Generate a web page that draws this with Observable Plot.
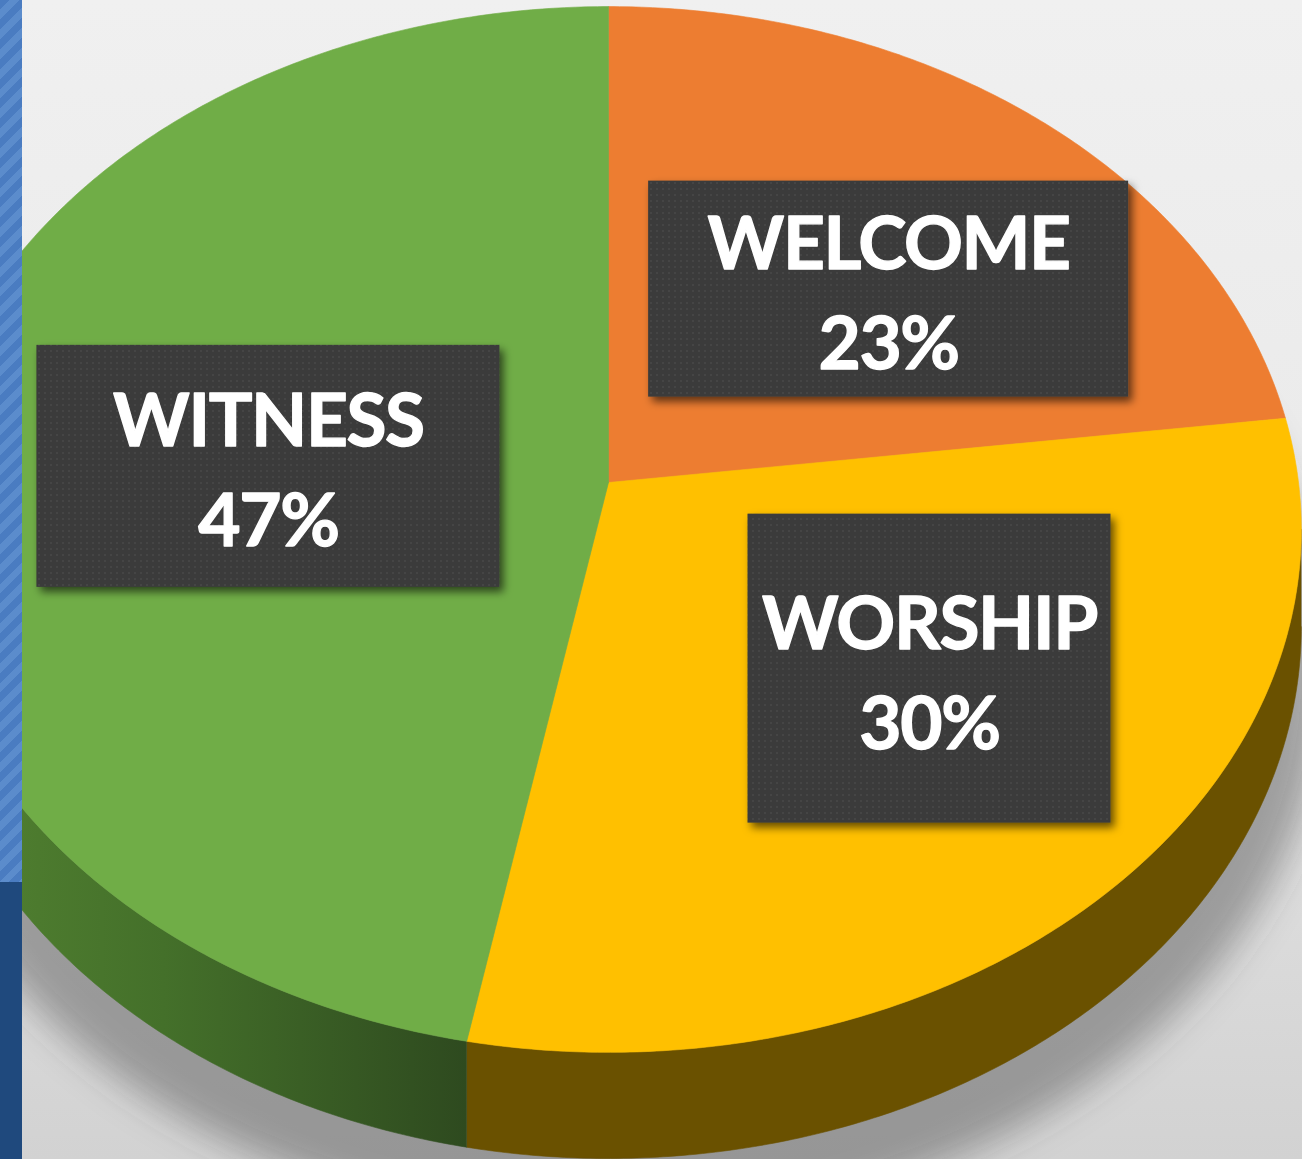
<!DOCTYPE html>
<html>
<head>
<meta charset="utf-8">
<script src="https://cdn.jsdelivr.net/npm/d3@7"></script>
<script src="https://cdn.jsdelivr.net/npm/@observablehq/plot@0.6"></script>
<style>
  html, body { margin: 0; padding: 0; background: #e8e8e8; }
  #wrap { position: relative; width: 1302px; height: 1159px; overflow: hidden; }
  #wrap svg { display: block; }
  #wrap svg text { letter-spacing: -1.4px; }
  #stripeTop { position: absolute; left: 0; top: 0; width: 22px; height: 882px;
    background: repeating-linear-gradient(135deg, #4a7cc1 0px, #4a7cc1 7px, #5b8ccc 7px, #5b8ccc 14px); }
  #stripeBottom { position: absolute; left: 0; top: 882px; width: 22px; height: 277px; background: #1f497d; }
</style>
</head>
<body>
<div id="wrap"></div>
<script>
// ---------- data ----------
const categories = ["WELCOME", "WORSHIP", "WITNESS"];
const shares = [23, 30, 47];
const topColors = ["#ed7d31", "#ffc000", "#70ad47"];
const sideColors = ["#7a3f14", "#6a5100", "url(#greenSide)"];

// ---------- layout (pixels / projection parameters) ----------
const W = 1302, H = 1159;
const CX = 608, CY = 482, A = 690;      // pie centre and horizontal radius in px
const K = 0.0898;                         // perspective strength
const TILT = 0.7517;                      // vertical squash of the top face
const DEPTH = 0.14;                       // thickness of the pie (radius units)
const labelR = 0.6;
const labelBox = [[480, 216], [363, 309], [463, 242]];
const labelNudge = [[17, 31], [26, -50], [70, 13]];

// perspective projection of a point on the pie (theta clockwise from top)
function project(theta, r, z) {
  const u = r * Math.sin(theta), v = r * Math.cos(theta);
  const s = 1 / (1 + K * v);
  return { x: u * s, y: (-v * TILT + z) * s };
}

const total = d3.sum(shares);
const slices = [];
let acc = 0;
categories.forEach((c, i) => {
  const a0 = acc / total * 2 * Math.PI;
  acc += shares[i];
  const a1 = acc / total * 2 * Math.PI;
  slices.push({ i, name: c, value: shares[i], a0, a1 });
});

function arc(a0, a1, r, z) {
  const n = Math.max(2, Math.ceil(Math.abs(a1 - a0) / (Math.PI / 360)));
  const pts = [];
  for (let j = 0; j <= n; j++) pts.push(project(a0 + (a1 - a0) * j / n, r, z));
  return pts;
}

// top faces
const topPts = slices.flatMap(s => {
  const pts = [project(0, 0, 0), ...arc(s.a0, s.a1, 1, 0), project(0, 0, 0)];
  return pts.map(p => ({ ...p, id: s.name, col: topColors[s.i] }));
});

// visible side walls (front half of the rim)
const thR = Math.acos(-K), thL = 2 * Math.PI - Math.acos(-K);
const sidePts = slices.flatMap(s => {
  const lo = Math.max(s.a0, thR), hi = Math.min(s.a1, thL);
  if (lo >= hi) return [];
  const pts = [...arc(lo, hi, 1, 0), ...arc(hi, lo, 1, DEPTH)];
  return pts.map(p => ({ ...p, id: s.name, col: sideColors[s.i] }));
});

// soft shadow under the pie
const shadowPts = arc(0, 2 * Math.PI, 1.035, DEPTH + 0.06);

// label boxes
const labels = slices.map(s => {
  const p = project((s.a0 + s.a1) / 2, labelR, 0);
  const cx = p.x + labelNudge[s.i][0] / A, cy = p.y + labelNudge[s.i][1] / A;
  const [bw, bh] = labelBox[s.i];
  return {
    label: `${s.name}\n${s.value}%`,
    x: cx, y: cy,
    x1: cx - bw / 2 / A, x2: cx + bw / 2 / A,
    y1: cy - bh / 2 / A, y2: cy + bh / 2 / A
  };
});

const plot = Plot.plot({
  width: W, height: H, margin: 0,
  x: { domain: [-CX / A, (W - CX) / A], range: [0, W], axis: null },
  y: { domain: [-CY / A, (H - CY) / A], range: [0, H], axis: null },
  color: { type: "identity" },
  style: { background: "linear-gradient(to bottom, #f0f0f0 0%, #eaeaea 45%, #d2d2d2 100%)", overflow: "hidden" },
  marks: [
    Plot.line(shadowPts, { x: "x", y: "y", fill: "#404040", fillOpacity: 0.42, stroke: "none" }),
    Plot.line(sidePts, { x: "x", y: "y", z: "id", fill: "col", stroke: "col", strokeWidth: 0.6 }),
    Plot.line(topPts, { x: "x", y: "y", z: "id", fill: "col", stroke: "col", strokeWidth: 0.6 }),
    Plot.rect(labels, { x1: "x1", x2: "x2", y1: "y1", y2: "y2", fill: "url(#dots)" }),
    Plot.text(labels, {
      x: "x", y: "y", text: "label", fill: "white", stroke: "white", strokeWidth: 1.3,
      fontSize: 73, fontWeight: 700, fontFamily: "Lato, 'Open Sans', sans-serif",
      lineHeight: 1.37, dy: -2
    })
  ]
});

const svg = d3.select(plot);
svg.insert("defs", ":first-child").html(`
  <pattern id="dots" width="6" height="6" patternUnits="userSpaceOnUse">
    <rect width="6" height="6" fill="#3a3a3a"/>
    <circle cx="3" cy="3" r="1.1" fill="#474747"/>
  </pattern>
  <linearGradient id="greenSide" x1="0" y1="0" x2="1" y2="0">
    <stop offset="0" stop-color="#548432"/>
    <stop offset="0.45" stop-color="#44702a"/>
    <stop offset="1" stop-color="#2e4a1f"/>
  </linearGradient>
  <filter id="blur" x="-30%" y="-30%" width="160%" height="160%">
    <feGaussianBlur stdDeviation="18"/>
  </filter>
  <filter id="boxShadow" x="-10%" y="-10%" width="125%" height="130%">
    <feDropShadow dx="4" dy="5" stdDeviation="4" flood-color="#000" flood-opacity="0.6"/>
  </filter>
`);
const lineGroups = svg.selectAll('g[aria-label="line"]').nodes();
if (lineGroups.length) d3.select(lineGroups[0]).attr("filter", "url(#blur)");
svg.selectAll('g[aria-label="rect"]').attr("filter", "url(#boxShadow)");

const wrap = document.getElementById("wrap");
wrap.appendChild(plot);
const st = document.createElement("div"); st.id = "stripeTop"; wrap.appendChild(st);
const sb = document.createElement("div"); sb.id = "stripeBottom"; wrap.appendChild(sb);
</script>
</body>
</html>
